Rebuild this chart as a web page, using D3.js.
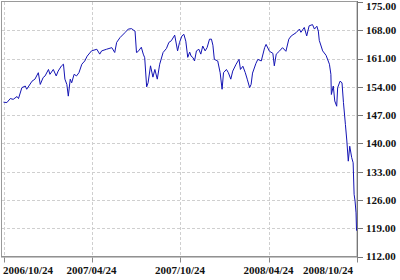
<!DOCTYPE html>
<html>
<head>
<meta charset="utf-8">
<script src="https://cdn.jsdelivr.net/npm/d3@7"></script>
<style>
  body { margin: 0; background: #fff; }
  svg { display: block; }
  .lbl { font-family: "Liberation Serif", "Times New Roman", serif; font-size: 11px; font-weight: bold; fill: #111; }
</style>
</head>
<body>
<div id="chart"></div>
<script>
// price series (days since the first date, closing value)
const startDate = "2006-10-24";
const endDate = "2008-10-24";
const days = [0, 7, 14, 20, 28, 31, 38, 45, 48, 59, 65, 72, 76, 82, 86, 93, 96, 103, 109, 113,
  120, 124, 127, 131, 134, 138, 141, 146, 151, 156, 162, 168, 173, 182, 193, 199, 203, 213, 224, 230,
  234, 241, 251, 258, 265, 268, 272, 275, 278, 285, 289, 292, 296, 299, 304, 309, 313, 318, 323, 330,
  337, 342, 347, 354, 360, 364, 369, 373, 377, 381, 385, 388, 392, 395, 399, 404, 408, 412, 417, 421,
  426, 430, 433, 436, 443, 448, 452, 455, 461, 465, 470, 474, 481, 487, 490, 495, 500, 504, 509, 512,
  515, 522, 526, 533, 540, 543, 550, 557, 560, 564, 571, 577, 584, 590, 595, 605, 612, 615, 622, 627,
  632, 639, 643, 648, 651, 653, 660, 667, 674, 677, 678, 682, 685, 689, 691, 696, 700, 703, 707, 710,
  713, 716, 720, 723, 725, 727, 729, 730];
const prices = [150.2, 150.1, 151.1, 150.9, 151.6, 151.1, 153.8, 154.2, 153.4, 155.4, 155.9, 157.5, 154.6, 156.3, 156.7, 158.3, 157.1, 158.3, 156.7, 157.9,
  159.2, 159.6, 155.9, 154.6, 151.7, 155.9, 155.0, 157.1, 156.7, 157.5, 159.6, 160.4, 161.6, 162.9, 163.3, 162.1, 162.9, 163.3, 163.7, 162.5,
  165.0, 166.2, 167.4, 168.3, 168.4, 168.1, 167.8, 162.5, 162.7, 163.8, 162.1, 161.2, 154.0, 155.0, 159.2, 156.4, 158.3, 155.9, 159.6, 162.5,
  163.5, 165.0, 165.4, 166.8, 162.9, 165.0, 166.6, 167.0, 165.3, 161.3, 162.6, 161.6, 161.2, 160.4, 162.9, 163.3, 162.1, 164.1, 162.9, 163.7,
  165.8, 165.8, 164.3, 160.8, 160.4, 157.5, 153.4, 157.5, 158.3, 157.5, 155.9, 157.9, 159.6, 160.8, 158.3, 159.1, 157.5, 155.9, 153.8, 154.6,
  157.4, 159.8, 160.8, 160.4, 163.7, 164.5, 162.8, 162.3, 159.2, 162.1, 162.9, 163.7, 162.8, 165.8, 166.6, 167.4, 168.3, 167.5, 168.7, 166.6,
  169.1, 169.4, 168.3, 169.0, 167.8, 165.5, 162.9, 161.8, 159.6, 157.1, 152.1, 154.2, 150.5, 149.2, 153.8, 155.4, 155.0, 150.1, 144.7, 140.6,
  135.6, 139.3, 136.5, 135.2, 127.4, 125.7, 122.8, 118.4];

const xTickLabels = ["2006/10/24", "2007/04/24", "2007/10/24", "2008/04/24", "2008/10/24"];
const yTicks = [112, 119, 126, 133, 140, 147, 154, 161, 168, 175];

const width = 400, height = 280;
const plotLeft = 3.5, plotRight = 357, plotTop = 2, plotBottom = 256.5;

const parse = d3.timeParse("%Y-%m-%d");
const parseTick = d3.timeParse("%Y/%m/%d");
const t0 = parse(startDate);
const data = days.map((d, i) => ({ date: d3.timeDay.offset(t0, d), value: prices[i] }));

const x = d3.scaleTime()
  .domain([t0, parse(endDate)])
  .range([plotLeft, plotRight]);

const y = d3.scaleLinear()
  .domain([112, 175])
  .range([plotBottom, plotTop]);

const svg = d3.select("#chart").append("svg")
  .attr("width", width)
  .attr("height", height);

// frame
svg.append("rect")
  .attr("x", 1.5).attr("y", 1.5)
  .attr("width", plotRight - 1.5).attr("height", plotBottom - 1.5)
  .attr("fill", "#fff")
  .attr("stroke", "#9a9a9a");

// grid
const grid = svg.append("g")
  .attr("stroke", "#cfcfcf")
  .attr("stroke-dasharray", "3,2")
  .attr("shape-rendering", "crispEdges");

grid.selectAll("line.h")
  .data(yTicks.filter(v => v > 112 && v < 175))
  .enter().append("line")
  .attr("x1", 2).attr("x2", plotRight)
  .attr("y1", d => Math.round(y(d)) + 0.5)
  .attr("y2", d => Math.round(y(d)) + 0.5);

grid.selectAll("line.v")
  .data(xTickLabels.slice(0, -1))
  .enter().append("line")
  .attr("y1", plotTop).attr("y2", plotBottom)
  .attr("x1", d => Math.round(x(parseTick(d))) + 0.5)
  .attr("x2", d => Math.round(x(parseTick(d))) + 0.5);

// price line
const line = d3.line()
  .x(d => x(d.date))
  .y(d => y(d.value));

svg.append("path")
  .datum(data)
  .attr("fill", "none")
  .attr("stroke", "#1414b4")
  .attr("stroke-width", 1)
  .attr("stroke-linejoin", "round")
  .attr("d", line);

// right axis
svg.append("line")
  .attr("x1", plotRight + 0.5).attr("x2", plotRight + 0.5)
  .attr("y1", 1).attr("y2", plotBottom + 1)
  .attr("stroke", "#777");

const yAxis = svg.append("g");
yAxis.selectAll("line")
  .data(yTicks)
  .enter().append("line")
  .attr("x1", plotRight).attr("x2", plotRight + 6)
  .attr("y1", d => Math.round(y(d)) + 0.5)
  .attr("y2", d => Math.round(y(d)) + 0.5)
  .attr("stroke", "#777");

yAxis.selectAll("text")
  .data(yTicks)
  .enter().append("text")
  .attr("class", "lbl")
  .attr("x", 366)
  .attr("y", d => Math.max(y(d), 6))
  .attr("dy", "0.35em")
  .text(d => d.toFixed(2));

// bottom axis
svg.append("line")
  .attr("x1", 1).attr("x2", plotRight + 1)
  .attr("y1", plotBottom + 0.5).attr("y2", plotBottom + 0.5)
  .attr("stroke", "#888");

const xAxis = svg.append("g");
xAxis.selectAll("line")
  .data(xTickLabels)
  .enter().append("line")
  .attr("x1", d => Math.round(x(parseTick(d))) + 0.5)
  .attr("x2", d => Math.round(x(parseTick(d))) + 0.5)
  .attr("y1", plotBottom + 1).attr("y2", plotBottom + 6)
  .attr("stroke", "#888");

xAxis.selectAll("text")
  .data(xTickLabels)
  .enter().append("text")
  .attr("class", "lbl")
  .attr("x", (d, i) => i === xTickLabels.length - 1 ? 353 : (i === 0 ? 3 : x(parseTick(d))))
  .attr("y", 274)
  .attr("text-anchor", (d, i) => i === 0 ? "start" : (i === xTickLabels.length - 1 ? "end" : "middle"))
  .text(d => d);
</script>
</body>
</html>
